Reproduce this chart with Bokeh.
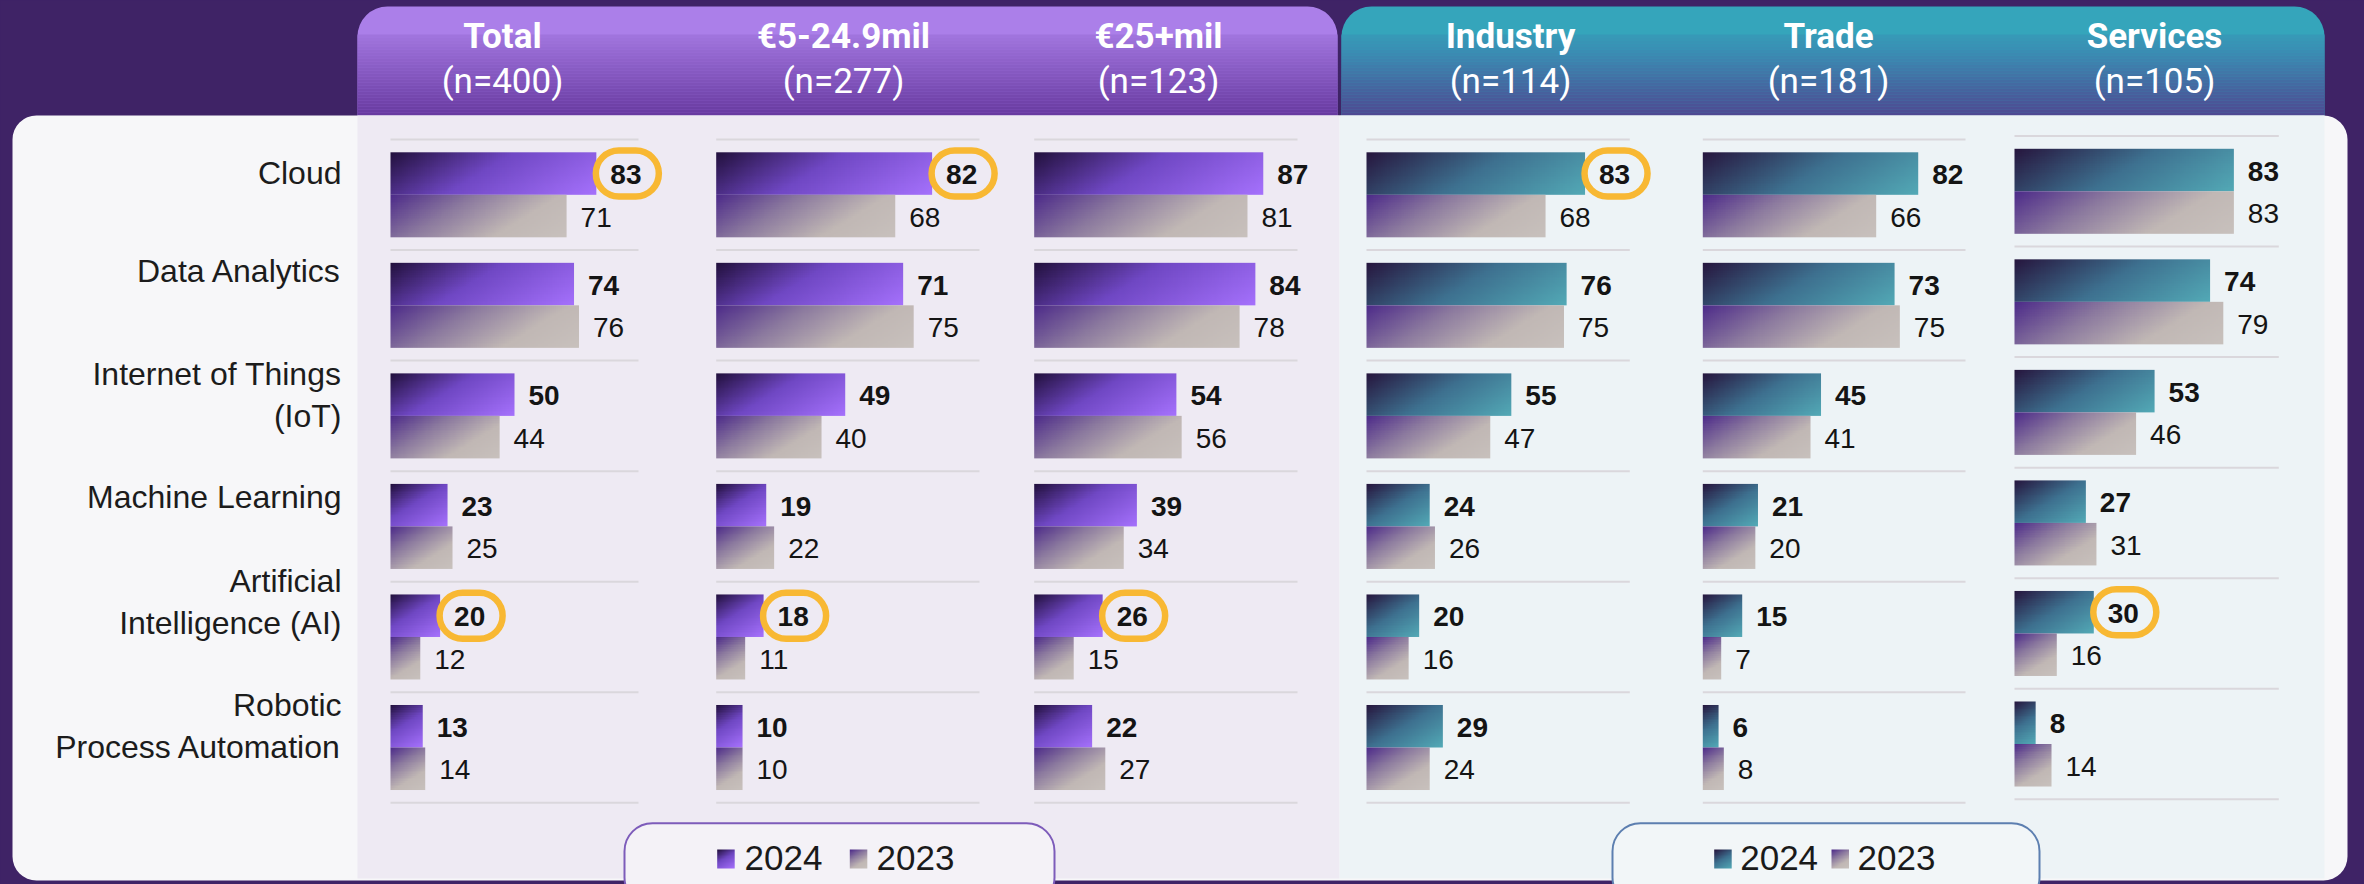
import numpy as np
from bokeh.plotting import figure
from bokeh.models import Range1d, GlobalInlineStyleSheet
from bokeh.core.properties import value
from bokeh.embed import file_html
from bokeh.resources import INLINE

# ---------------- data ----------------
technologies = ["Cloud", "Data Analytics", "Internet of Things (IoT)", "Machine Learning",
                "Artificial Intelligence (AI)", "Robotic Process Automation"]
technology_lines = [["Cloud"], ["Data Analytics"], ["Internet of Things", "(IoT)"],
                    ["Machine Learning"], ["Artificial", "Intelligence (AI)"],
                    ["Robotic", "Process Automation"]]
segments = ["Total", "€5-24.9mil", "€25+mil", "Industry", "Trade", "Services"]
segment_n = ["(n=400)", "(n=277)", "(n=123)", "(n=114)", "(n=181)", "(n=105)"]
years = ["2024", "2023"]

total_2024 = [83, 74, 50, 23, 20, 13]
total_2023 = [71, 76, 44, 25, 12, 14]
small_2024 = [82, 71, 49, 19, 18, 10]
small_2023 = [68, 75, 40, 22, 11, 10]
large_2024 = [87, 84, 54, 39, 26, 22]
large_2023 = [81, 78, 56, 34, 15, 27]
industry_2024 = [83, 76, 55, 24, 20, 29]
industry_2023 = [68, 75, 47, 26, 16, 24]
trade_2024 = [82, 73, 45, 21, 15, 6]
trade_2023 = [66, 75, 41, 20, 7, 8]
services_2024 = [83, 74, 53, 27, 30, 8]
services_2023 = [83, 79, 46, 31, 16, 14]

highlighted = [("Total", "Cloud"), ("€5-24.9mil", "Cloud"), ("Industry", "Cloud"),
               ("Total", "Artificial Intelligence (AI)"),
               ("€5-24.9mil", "Artificial Intelligence (AI)"),
               ("€25+mil", "Artificial Intelligence (AI)"),
               ("Services", "Artificial Intelligence (AI)")]

series_2024 = [total_2024, small_2024, large_2024, industry_2024, trade_2024, services_2024]
series_2023 = [total_2023, small_2023, large_2023, industry_2023, trade_2023, services_2023]

# ---------------- layout / style ----------------
W, H = 2364, 884
BG = "#3f2366"
SHIFT = 0.34   # baseline correction (em) for the svg text renderer


def fx(x):
    return x


def fy(y):
    return H - y


def up(fs):
    return -SHIFT * fs


panel_px = [(390, 638), (715.7, 979), (1033.7, 1297), (1366, 1629.3), (1702.3, 1965), (2014, 2278.3)]
panel_dy = [0, 0, 0, 0, 0, 3.5]      # panel raised by this many px
panel_theme = ["purple", "purple", "purple", "teal", "teal", "teal"]
header_cx = [502, 843, 1158, 1510, 1828, 2154]
ROW0, ROW_STEP = 194.3, 110.54
BAR_H = 0.3845
label_dy = [-11, -23, 11, -19, -3, 10]   # baseline of last label line vs row centre (px)
LINE_GAP = 41.7
FS_HEAD, FS_LABEL, FS_VAL, FS_LEG = 35, 32, 28, 35

STOPS_2024 = {"purple": [(0, "#23113e"), (0.45, "#7048c4"), (1, "#a571fc")],
              "teal": [(0, "#27173f"), (0.5, "#3e7190"), (1, "#53a9b6")]}
STOPS_2023 = [(0, "#4e2c8a"), (0.35, "#8c7a9f"), (0.7, "#c1b8b5"), (1, "#c8c1bd")]


def hex2rgb(h):
    return tuple(int(h[i:i + 2], 16) for i in (1, 3, 5))


def grad(stops, wpx, hpx, kv=1.6, nx=96, ny=24):
    u = np.linspace(0, 1, nx)[None, :] * wpx
    v = np.linspace(1, 0, ny)[:, None] * hpx
    t = (u + kv * v) / (wpx + kv * hpx)
    pos = [s[0] for s in stops]
    cols = np.array([hex2rgb(s[1]) for s in stops], float)
    img = np.empty((ny, nx), dtype=np.uint32)
    view = img.view(dtype=np.uint8).reshape((ny, nx, 4))
    for c in range(3):
        view[:, :, c] = np.clip(np.interp(t, pos, cols[:, c]), 0, 255).astype(np.uint8)
    view[:, :, 3] = 255
    return img


def lerp_hex(stops, t):
    pos = [s[0] for s in stops]
    cols = np.array([hex2rgb(s[1]) for s in stops], float)
    rgb = [int(round(np.interp(t, pos, cols[:, c]))) for c in range(3)]
    return "#%02x%02x%02x" % tuple(rgb)


p = figure(width=W, height=H, x_range=Range1d(0, W), y_range=Range1d(0, H),
           output_backend="svg", toolbar_location=None, x_axis_type=None, y_axis_type=None,
           min_border=0, outline_line_color=None, background_fill_color=BG, border_fill_color=BG)
p.grid.visible = False
p.stylesheets = [GlobalInlineStyleSheet(css="html, body { background-color: #3f2366; overflow: hidden; }")]

n_rows = len(technologies)
row_val = [n_rows - 1 - i for i in range(n_rows)]
base = fy(ROW0 + (n_rows - 1) * ROW_STEP)
yr = {"rows": Range1d(-base / ROW_STEP, (H - base) / ROW_STEP)}
for i, d in enumerate(panel_dy):
    b0 = base + d
    yr["rows%d" % i] = Range1d(-b0 / ROW_STEP, (H - b0) / ROW_STEP)
p.extra_y_ranges = yr

xr = {}
for i, (a, b) in enumerate(panel_px):
    s, e = fx(a), fx(b)
    k = 100.0 / (e - s)
    xr["p%d" % i] = Range1d(-s * k, (W - s) * k)
p.extra_x_ranges = xr

# ---------------- decoration: headers & panels ----------------
headers = [(357, 1337, [(0, "#b489f3"), (1, "#66389e")]),
           (1341, 2324, [(0, "#33afbe"), (0.4, "#3a8db3"), (1, "#4f4690")])]
for (l, r, st) in headers:
    p.quad(left=fx(l), right=fx(r), top=fy(6), bottom=fy(120), fill_color=lerp_hex(st, 0.12),
           line_color=None, border_radius=(30, 30, 0, 0))
    ys = np.arange(34, 120, 3)
    cols = [lerp_hex(st, (y - 6) / 109.0) for y in ys]
    p.quad(left=fx(l), right=fx(r), top=[fy(y) for y in ys], bottom=[fy(y + 3.2) for y in ys],
           fill_color=cols, line_color=None)

p.quad(left=fx(12), right=fx(2347), top=fy(115), bottom=fy(880), fill_color="#f7f7f9",
       line_color=None, border_radius=24)
p.quad(left=fx(357), right=fx(1339), top=fy(115), bottom=fy(878), fill_color="#eeeaf3", line_color=None)
p.quad(left=fx(1339), right=fx(2324), top=fy(115), bottom=fy(878), fill_color="#edf3f6", line_color=None)

for i, seg in enumerate(segments):
    p.text(x=[fx(header_cx[i])], y=[fy(48)], text=[seg], y_offset=up(FS_HEAD), text_align="center",
           text_baseline="alphabetic", text_font=value("Roboto"), text_font_style="bold",
           text_font_size="%dpx" % FS_HEAD, text_color="white")
    p.text(x=[fx(header_cx[i])], y=[fy(93)], text=[segment_n[i]], y_offset=up(FS_HEAD),
           text_align="center", text_baseline="alphabetic", text_font=value("Roboto"),
           text_font_size="%dpx" % FS_HEAD, text_color="white")

# ---------------- row labels ----------------
lx, ly, lt, loff = [], [], [], []
for r, lines in enumerate(technology_lines):
    n = len(lines)
    for k, line in enumerate(lines):
        lx.append(fx(341))
        ly.append(row_val[r])
        lt.append(line)
        loff.append(label_dy[r] - (n - 1 - k) * LINE_GAP + up(FS_LABEL))
p.text(x=lx, y=ly, text=lt, y_offset=loff, text_align="right", text_baseline="alphabetic",
       text_font=value("Liberation Sans"), text_font_size="%dpx" % FS_LABEL, text_color="#1c1c1c",
       y_range_name="rows")

# ---------------- bars ----------------
for i, seg in enumerate(segments):
    a, b = panel_px[i]
    ppu = (b - a) / 100.0
    xn, yn = "p%d" % i, "rows%d" % i
    seps = [c + 0.5 for c in row_val] + [row_val[-1] - 0.5]
    p.segment(x0=0, x1=100, y0=seps, y1=seps, line_color="#dad7dc", line_width=2,
              x_range_name=xn, y_range_name=yn)
    for vals, off, stops, bold in [(series_2024[i], 0.0, STOPS_2024[panel_theme[i]], True),
                                   (series_2023[i], -BAR_H, STOPS_2023, False)]:
        imgs = [grad(stops, v * ppu, BAR_H * ROW_STEP) for v in vals]
        p.image_rgba(image=imgs, x=[0] * n_rows, y=[c + off for c in row_val], dw=vals,
                     dh=[BAR_H] * n_rows, x_range_name=xn, y_range_name=yn)
        p.text(x=vals, y=[c + off + BAR_H / 2 for c in row_val], text=[str(v) for v in vals],
               x_offset=14, y_offset=10.5 + up(FS_VAL), text_align="left", text_baseline="alphabetic",
               text_font=value("Liberation Sans"), text_font_size="%dpx" % FS_VAL,
               text_font_style="bold" if bold else "normal", text_color="#141414",
               x_range_name=xn, y_range_name=yn)

# highlight rings
for seg, tech in highlighted:
    i = segments.index(seg)
    r = technologies.index(tech)
    a, b = panel_px[i]
    ppu = (b - a) / 100.0
    v = series_2024[i][r]
    p.rect(x=[v + 31 / ppu], y=[row_val[r] + BAR_H / 2], width=63, height=46,
           width_units="screen", height_units="screen", border_radius=23,
           fill_color=None, line_color="#f8b833", line_width=6.5,
           x_range_name="p%d" % i, y_range_name="rows%d" % i)

# ---------------- legends ----------------
legends = [(624, 1054, "#7d5cba", "#f4f2f7", "purple", [716.7, 849.3], [744, 876]),
           (1612, 2039, "#5d7fb0", "#f2f6f8", "teal", [1713.7, 1831], [1739.7, 1857])]
for (l, r, lc, fc, theme, sw_x, tx_x) in legends:
    p.quad(left=fx(l), right=fx(r), top=fy(822.7), bottom=fy(905), fill_color=fc,
           line_color=lc, line_width=2, border_radius=28)
    sw_imgs = [grad(STOPS_2024[theme], 17.5, 19), grad(STOPS_2023, 17.5, 19)]
    p.image_rgba(image=sw_imgs, x=[fx(x) for x in sw_x], y=[fy(868)] * 2, dw=[17.5] * 2, dh=[19] * 2)
    p.text(x=[fx(x) for x in tx_x], y=[fy(869)] * 2, text=years, y_offset=up(FS_LEG), text_align="left",
           text_baseline="alphabetic", text_font=value("Liberation Sans"),
           text_font_size="%dpx" % FS_LEG, text_color="#1a1a1a")

open("out.html", "w").write(file_html(p, INLINE))
